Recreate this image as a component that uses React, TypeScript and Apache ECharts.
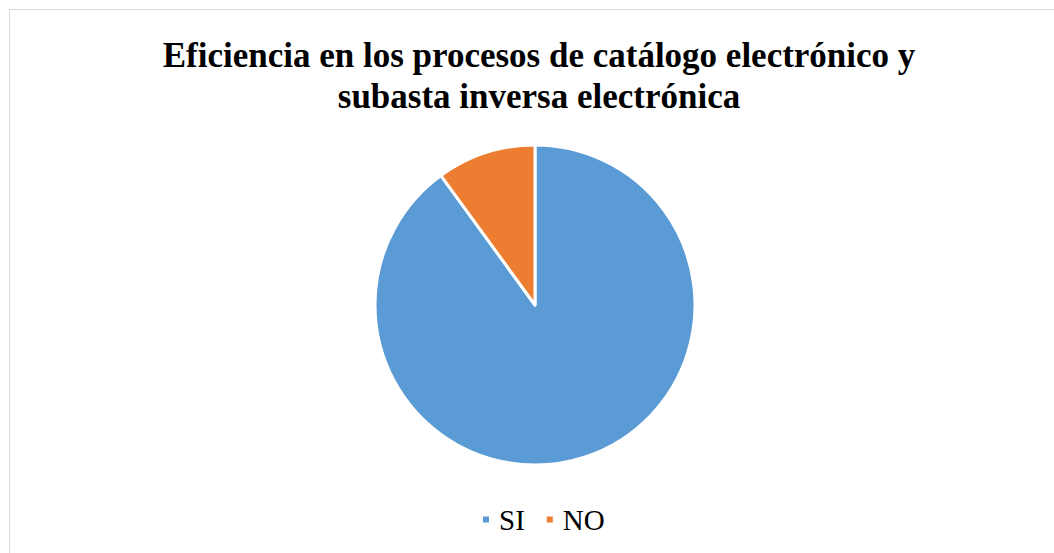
import React, { useEffect, useRef } from "react";
import * as echarts from "echarts";

const categories = ["SI", "NO"];
const values = [90, 10];
const colors = ["#5B9BD5", "#ED7D31"];
const titleText = "Eficiencia en los procesos de catálogo electrónico y\nsubasta inversa electrónica";

export default function App() {
  const ref = useRef<HTMLDivElement>(null);
  useEffect(() => {
    if (!ref.current) return;
    const chart = echarts.init(ref.current, undefined, { renderer: "svg" });
    chart.setOption({
      animation: false,
      backgroundColor: "#ffffff",
      color: colors,
      textStyle: { fontFamily: "Liberation Serif" },
      title: {
        text: titleText,
        left: 534,
        textAlign: "center",
        top: 30,
        textStyle: {
          fontFamily: "Liberation Serif",
          fontWeight: "bold",
          fontSize: 35,
          lineHeight: 41,
          color: "#000000",
        },
      },
      graphic: [
        {
          type: "rect",
          shape: { x: 9.5, y: 9.5, width: 1100, height: 600 },
          style: { fill: "none", stroke: "#d9d9d9", lineWidth: 1 },
          silent: true,
        },
      ],
      legend: {
        data: categories,
        top: 500,
        left: 476,
        icon: "rect",
        itemWidth: 8,
        itemHeight: 8,
        itemGap: 20,
        formatter: "{t|{name}}",
        textStyle: {
          fontFamily: "Liberation Serif",
          fontSize: 29,
          color: "#000000",
          rich: {
            t: {
              fontFamily: "Liberation Serif",
              fontSize: 29,
              color: "#000000",
              padding: [0, 0, 0, 4],
            },
          },
        },
      },
      series: [
        {
          type: "pie",
          center: [535, 305],
          radius: [0, 160],
          startAngle: 90,
          clockwise: true,
          label: { show: false },
          labelLine: { show: false },
          itemStyle: { borderColor: "#ffffff", borderWidth: 3 },
          emphasis: { disabled: true },
          data: categories.map((c, i) => ({ name: c, value: values[i] })),
        },
      ],
    });
    return () => chart.dispose();
  }, []);
  return (
    <div
      ref={ref}
      style={{ position: "fixed", left: 0, top: 0, width: 1054, height: 553 }}
    />
  );
}
